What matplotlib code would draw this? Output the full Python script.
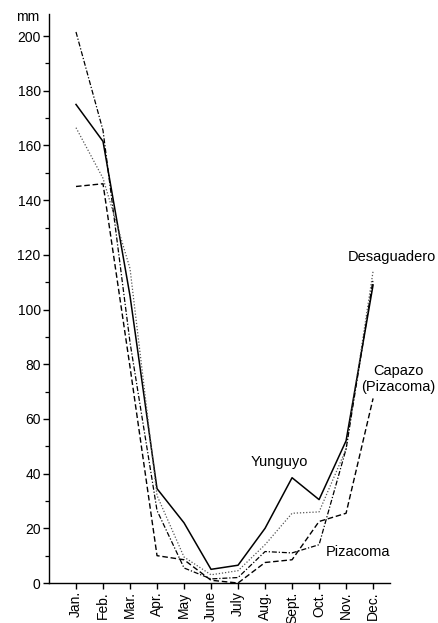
import matplotlib.pyplot as plt
import numpy as np

plt.rcParams['font.family'] = ['Liberation Sans', 'DejaVu Sans']

# 月ラベル
months = ['Jan.', 'Feb.', 'Mar.', 'Apr.', 'May', 'June',
          'July', 'Aug.', 'Sept.', 'Oct.', 'Nov.', 'Dec.']

# 月別降水量 (mm)
yunguyo     = [175, 161.5, 105, 34.5, 22, 5, 6.5, 20, 38.5, 30.5, 52, 109]
desaguadero = [166.5, 148, 115, 32, 9.5, 3, 4.5, 14, 25.5, 26, 49, 114]
pizacoma    = [201.5, 165.5, 88, 26.5, 5.5, 1.5, 2, 11.5, 11, 14, 49, 111]
capazo      = [145, 146, 79, 10, 8.5, 1, 0, 7.5, 8.5, 22.5, 25.5, 67.5]

y_ticks = list(range(0, 201, 20))

# ---- 描画 ----
fig = plt.figure(figsize=(4.39, 6.23), dpi=100)
ax = fig.add_axes([0.1116, 0.0642, 0.777, 0.913])

x = np.arange(len(months))
ax.plot(x, yunguyo, color='black', linewidth=1.1, linestyle='-')
ax.plot(x, desaguadero, color='#555555', linewidth=0.9, linestyle=(0, (1, 1.5)))
ax.plot(x, pizacoma, color='black', linewidth=0.9, linestyle=(0, (4, 1.5, 1, 1.5)))
ax.plot(x, capazo, color='black', linewidth=1.0, linestyle=(0, (4, 2)))

ax.set_xlim(-1.0, 11.63)
ax.set_ylim(0, 208)

ax.spines['top'].set_visible(False)
ax.spines['right'].set_visible(False)
ax.spines['left'].set_linewidth(1.0)
ax.spines['bottom'].set_linewidth(1.0)

ax.set_xticks(x)
ax.set_xticklabels(months, rotation=90, fontsize=10)
ax.set_yticks(y_ticks)
ax.set_yticklabels([str(v) for v in y_ticks], fontsize=10)
ax.set_yticks(range(10, 200, 20), minor=True)
ax.tick_params(axis='both', which='major', direction='out', length=4, width=1.0, pad=2)
ax.tick_params(axis='y', which='minor', direction='out', length=3, width=0.9)

# 単位
fig.text(28 / 439, 1 - 17 / 623, 'mm', ha='center', va='center', fontsize=10)

# 観測地点ラベル
ax.text(11.7, 119.2, 'Desaguadero', ha='center', va='center', fontsize=10.5)
ax.text(11.95, 74.6, 'Capazo\n(Pizacoma)', ha='center', va='center',
        fontsize=10.5, multialignment='center', linespacing=1.1)
ax.text(7.52, 44.2, 'Yunguyo', ha='center', va='center', fontsize=10.5)
ax.text(10.44, 11.3, 'Pizacoma', ha='center', va='center', fontsize=10.5)

plt.savefig('out.png', dpi=100)
